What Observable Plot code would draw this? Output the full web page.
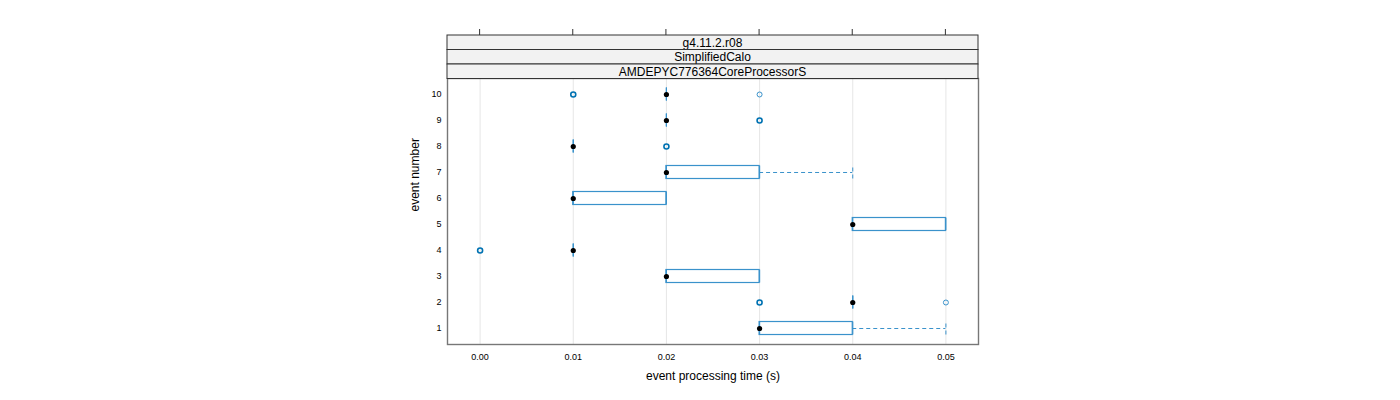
<!DOCTYPE html>
<html>
<head>
<meta charset="utf-8">
<script src="https://cdn.jsdelivr.net/npm/d3@7"></script>
<script src="https://cdn.jsdelivr.net/npm/@observablehq/plot@0.6"></script>
<style>
  html, body { margin: 0; padding: 0; background: #fff; }
  #chart { width: 1400px; height: 400px; }
  svg { font-family: "Liberation Sans", Arial, sans-serif; }
</style>
</head>
<body>
<div id="chart"></div>
<script>
// ---- data ----
const events   = [1, 2, 3, 4, 5, 6, 7, 8, 9, 10];
const q1       = [0.03, 0.04, 0.02, 0.01, 0.04, 0.01, 0.02, 0.01, 0.02, 0.02];
const medians  = [0.03, 0.04, 0.02, 0.01, 0.04, 0.01, 0.02, 0.01, 0.02, 0.02];
const q3       = [0.04, 0.04, 0.03, 0.01, 0.05, 0.02, 0.03, 0.01, 0.02, 0.02];
const whiskLo  = [0.03, 0.04, 0.02, 0.01, 0.04, 0.01, 0.02, 0.01, 0.02, 0.02];
const whiskHi  = [0.05, 0.04, 0.03, 0.01, 0.05, 0.02, 0.04, 0.01, 0.02, 0.02];
const outEvent = [2, 2, 4, 8, 9, 10, 10];
const outValue = [0.03, 0.05, 0.00, 0.02, 0.03, 0.01, 0.03];
const outCount = [3, 1, 3, 3, 3, 3, 1];
const xTicks   = [0.00, 0.01, 0.02, 0.03, 0.04, 0.05];
const stripLabels = ["g4.11.2.r08", "SimplifiedCalo", "AMDEPYC776364CoreProcessorS"];
const xLabel = "event processing time (s)";
const yLabel = "event number";

const boxes = events.map((e, i) => ({
  event: e, q1: q1[i], med: medians[i], q3: q3[i], lo: whiskLo[i], hi: whiskHi[i]
}));
const outliers = outEvent.map((e, i) => ({event: e, value: outValue[i], count: outCount[i]}));
const upperW = boxes.filter(d => d.hi > d.q3);
const lowerW = boxes.filter(d => d.lo < d.q1);

const blue = "#0072B2";
const boxBlue = "#3a92cb";
const half = 0.25;

const W = 1400, H = 400;
const mL = 447, mR = 422, mT = 78, mB = 56;

const plot = Plot.plot({
  width: W, height: H,
  marginLeft: mL, marginRight: mR, marginTop: mT, marginBottom: mB,
  style: {fontFamily: "Liberation Sans, Arial, sans-serif", background: "#fff"},
  x: {domain: [-0.0035, 0.0535], ticks: xTicks},
  y: {domain: [0.385, 10.615]},
  marks: [
    Plot.ruleX(xTicks, {stroke: "#e6e6e6", strokeWidth: 1}),
    // whiskers
    Plot.ruleY(upperW, {y: "event", x1: "q3", x2: "hi", stroke: boxBlue, strokeDasharray: "4,3", strokeWidth: 1}),
    Plot.ruleX(upperW, {x: "hi", y1: d => d.event - half, y2: d => d.event + half, stroke: boxBlue, strokeDasharray: "4,3", strokeWidth: 1}),
    Plot.ruleY(lowerW, {y: "event", x1: "lo", x2: "q1", stroke: boxBlue, strokeDasharray: "4,3", strokeWidth: 1}),
    Plot.ruleX(lowerW, {x: "lo", y1: d => d.event - half, y2: d => d.event + half, stroke: boxBlue, strokeDasharray: "4,3", strokeWidth: 1}),
    // boxes
    Plot.rect(boxes.filter(d => d.q3 > d.q1), {x1: "q1", x2: "q3", y1: d => d.event - half, y2: d => d.event + half, fill: "none", stroke: boxBlue, strokeWidth: 1.2}),
    Plot.ruleX(boxes, {x: "q1", y1: d => d.event - half, y2: d => d.event + half, stroke: boxBlue, strokeWidth: 1.2}),
    Plot.ruleX(boxes, {x: "q3", y1: d => d.event - half, y2: d => d.event + half, stroke: boxBlue, strokeWidth: 1.2}),
    // outliers
    Plot.dot(outliers, {x: "value", y: "event", r: 2.5, stroke: d => d.count > 1 ? blue : boxBlue, fill: "none", strokeWidth: d => d.count > 1 ? 1.6 : 1}),
    // medians
    Plot.dot(boxes, {x: "med", y: "event", r: 2.6, fill: "#000", stroke: "none"}),
    Plot.frame({stroke: "#777", strokeWidth: 1.4}),
    Plot.axisY(events, {tickSize: 0, tickPadding: 6, fontSize: 9, label: null, color: "#000", tickFormat: d => String(d)}),
    Plot.axisX(xTicks, {tickSize: 0, tickPadding: 9, fontSize: 9, label: null, color: "#000", tickFormat: d3.format(".2f")}),
    Plot.text([xLabel], {frameAnchor: "bottom", dy: 35, fontSize: 12, fill: "#000"}),
    Plot.text([yLabel], {frameAnchor: "left", dx: -32, rotate: -90, fontSize: 12, fill: "#000"})
  ]
});

document.getElementById("chart").appendChild(plot);

// strips and top ticks above strips
const svg = d3.select(plot);
const xs = plot.scale("x");
const stripTop = 35, stripH = 14.5;
const g = svg.append("g");
stripLabels.forEach((lab, i) => {
  const y0 = stripTop + i * stripH;
  g.append("rect").attr("x", mL).attr("y", y0).attr("width", W - mL - mR).attr("height", stripH)
    .attr("fill", "#f2f2f2").attr("stroke", "#333").attr("stroke-width", 1);
  g.append("text").attr("x", (mL + W - mR) / 2).attr("y", y0 + stripH / 2)
    .attr("dy", "0.36em").attr("text-anchor", "middle").attr("font-size", 12).attr("fill", "#000").text(lab);
});
xTicks.forEach(t => {
  const x = xs.apply(t);
  g.append("line").attr("x1", x).attr("x2", x).attr("y1", 29).attr("y2", 35)
    .attr("stroke", "#333").attr("stroke-width", 1);
});
</script>
</body>
</html>
